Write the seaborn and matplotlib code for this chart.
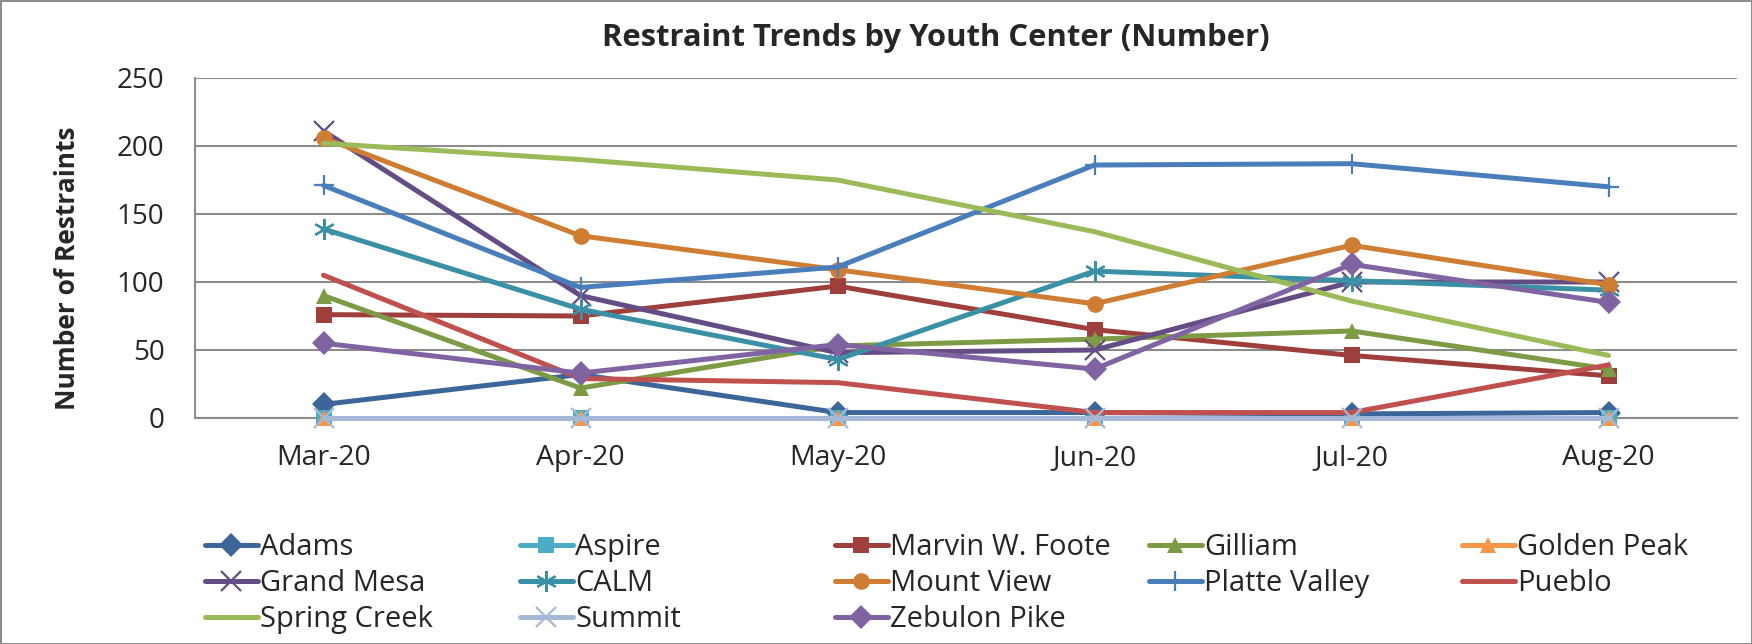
import matplotlib
matplotlib.use("Agg")
import matplotlib.pyplot as plt
import numpy as np
import pandas as pd
import seaborn as sns

months = ["Mar-20", "Apr-20", "May-20", "Jun-20", "Jul-20", "Aug-20"]

adams = [10, 32, 4, 4, 3, 4]
aspire = [0, 0, 0, 0, 0, 0]
marvin_foote = [76, 75, 97, 65, 46, 31]
gilliam = [90, 22, 53, 58, 64, 36]
golden_peak = [0, 0, 0, 0, 0, 0]
grand_mesa = [211, 90, 48, 50, 100, 100]
calm = [139, 80, 43, 108, 101, 94]
mount_view = [206, 134, 109, 84, 127, 98]
platte_valley = [171, 96, 111, 186, 187, 170]
pueblo = [105, 29, 26, 4, 4, 39]
spring_creek = [202, 190, 175, 137, 86, 46]
summit = [0, 0, 0, 0, 0, 0]
zebulon_pike = [55, 33, 54, 36, 113, 85]

# name, values, colour, marker (plot order = Excel series order)
series = [
    ("Adams", adams, "#3C6699", "D"),
    ("Aspire", aspire, "#4BACC6", "s"),
    ("Marvin W. Foote", marvin_foote, "#9E3F3C", "s"),
    ("Gilliam", gilliam, "#7D9A45", "^"),
    ("Golden Peak", golden_peak, "#F79646", "^"),
    ("Grand Mesa", grand_mesa, "#644C84", "x"),
    ("CALM", calm, "#3A91A5", (6, 2, 0)),
    ("Mount View", mount_view, "#D07D34", "o"),
    ("Platte Valley", platte_valley, "#4A7EBB", "+"),
    ("Pueblo", pueblo, "#C0504D", None),
    ("Spring Creek", spring_creek, "#9BBB59", None),
    ("Summit", summit, "#A5B9D7", "x"),
    ("Zebulon Pike", zebulon_pike, "#8064A2", "D"),
]

sns.set_style("white")
plt.rcParams["font.family"] = ["Open Sans", "DejaVu Sans"]

W, H = 1752, 644
fig = plt.figure(figsize=(W / 100, H / 100), dpi=100)
fig.patch.set_edgecolor("#8C8C8C")
fig.patch.set_linewidth(2)
ax = fig.add_axes([195 / W, 1 - 418 / H, (1737 - 195) / W, (418 - 78) / H])

x = np.arange(len(months))
handles = {}
for i, (name, vals, color, marker) in enumerate(series):
    df = pd.DataFrame({"month": x, "value": vals})
    thin = marker in ("x", "+", (6, 2, 0))
    sns.lineplot(data=df, x="month", y="value", ax=ax, color=color, lw=3.6,
                 marker=marker if marker is not None else "",
                 markersize=15 if thin else 12,
                 markeredgewidth=1.6 if thin else 0,
                 markeredgecolor=color, markerfacecolor=color,
                 sort=False, legend=False, clip_on=False, zorder=3 + i * 0.01)
    handles[name] = ax.lines[-1]

ax.set_xlim(-0.5, 5.5)
ax.set_ylim(0, 250)
ax.set_yticks([0, 50, 100, 150, 200, 250])
ax.set_xticks(x)
ax.set_xticklabels(months)
ax.set_xticks(np.arange(-0.5, 6, 1), minor=True)
ax.tick_params(axis="x", which="major", length=0, pad=19, labelsize=20.5)
ax.tick_params(axis="x", which="minor", length=10, width=1.5, color="#8C8C8C", direction="out")
ax.tick_params(axis="y", length=10, width=1.5, color="#8C8C8C", direction="out", pad=12, labelsize=20)
ax.grid(axis="y", color="#8C8C8C", lw=1.5)
ax.set_axisbelow(True)
for s in ("top", "right"):
    ax.spines[s].set_visible(False)
for s in ("left", "bottom"):
    ax.spines[s].set_color("#8C8C8C")
    ax.spines[s].set_linewidth(1.5)
    ax.spines[s].set_zorder(2)
ax.set_xlabel("")
ax.set_ylabel("")

fig.text(936 / W, 1 - 38 / H, "Restraint Trends by Youth Center (Number)",
         ha="center", va="center", fontsize=22.3, fontweight="bold")
fig.text(68 / W, 1 - 268 / H, "Number of Restraints", rotation=90,
         ha="center", va="center", fontsize=19, fontweight="bold")

# legend: Excel-style equal-width columns, filled row by row
legend_cols = [
    ["Adams", "Grand Mesa", "Spring Creek"],
    ["Aspire", "CALM", "Summit"],
    ["Marvin W. Foote", "Mount View", "Zebulon Pike"],
    ["Gilliam", "Platte Valley"],
    ["Golden Peak", "Pueblo"],
]
col_x = [205, 520, 835, 1149, 1462]
for cx, names in zip(col_x, legend_cols):
    fig.legend([handles[n] for n in names], names, loc="upper left",
               bbox_to_anchor=(cx / W, 1 - 533 / H), frameon=False,
               fontsize=21, handlelength=1.8, handletextpad=0.1,
               labelspacing=0.24, borderaxespad=0, borderpad=0)

fig.savefig("out.png", dpi=100)
